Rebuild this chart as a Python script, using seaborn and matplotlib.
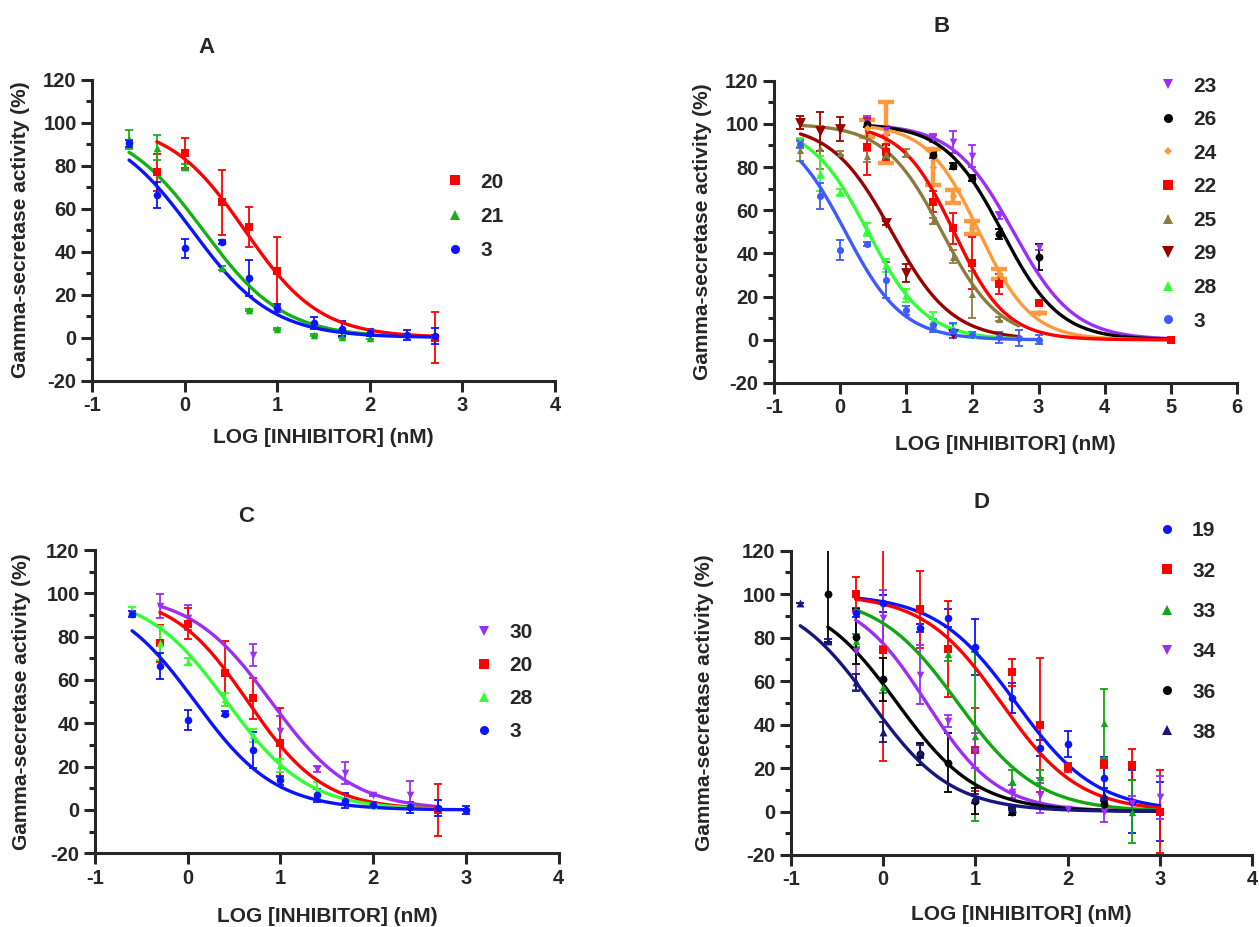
import numpy as np
import pandas as pd
import matplotlib
matplotlib.use("Agg")
import matplotlib.pyplot as plt
import seaborn as sns
from matplotlib.lines import Line2D
from matplotlib.ticker import NullLocator

# ---- measured points: log[inhibitor] (nM), activity (%), error ----
cpd3_x = [-0.6, -0.3, 0, 0.4, 0.7, 1, 1.4, 1.7, 2, 2.4, 2.7, 3]
cpd3_y = [90.5, 66.5, 41.5, 44.5, 27.7, 13.7, 6.8, 4.2, 2.3, 1.2, 0.7, 0.0]
cpd3_err = [1.5, 6, 4.5, 1, 8.5, 2, 3, 3.5, 1.5, 2.5, 3.7, 2]

cpd20_x = [-0.3, 0, 0.4, 0.7, 1, 2.7]
cpd20_y = [77, 86, 63, 51.5, 31, 0]
cpd20_err = [8.5, 7, 15, 9.5, 16, 12]

cpd21_x = [-0.6, -0.3, 0, 0.4, 0.7, 1, 1.4, 1.7, 2]
cpd21_y = [92.3, 88.5, 79.5, 32.5, 13, 3.8, 1, 0.3, 0]
cpd21_err = [4.5, 6, 1.5, 0.8, 0.5, 0.5, 0.5, 0.5, 0.5]

cpd28_x = [-0.6, -0.3, 0, 0.4, 0.7, 1, 1.4, 1.7, 2]
cpd28_y = [91.5, 77, 68.5, 51, 34.5, 20.7, 9, 5.2, 2.5]
cpd28_err = [2, 8, 1.5, 3, 3, 3, 4, 2, 1]

cpd30_x = [-0.3, 0, 0.7, 1, 1.4, 1.7, 2, 2.4]
cpd30_y = [94, 88.7, 71.5, 36.6, 18.8, 17.2, 7, 7]
cpd30_err = [5.5, 5.7, 5, 7, 1.5, 5, 0.5, 6.5]

cpd23_x = [0.4, 0.7, 1.4, 1.7, 2, 2.4, 3]
cpd23_y = [101, 97, 93.5, 91.7, 85, 57.5, 43]
cpd23_err = [2.5, 2, 2, 5, 5, 1.5, 1.5]

cpd26_x = [0.4, 0.7, 1.4, 1.7, 2, 2.4, 3]
cpd26_y = [100, 86, 85.5, 80.5, 75, 49, 38.5]
cpd26_err = [1.5, 4, 1.5, 1.5, 1.5, 2.5, 6]

cpd24_x = [0.4, 0.7, 1.4, 1.7, 2, 2.4, 3]
cpd24_y = [98, 96, 80, 66.5, 52, 30.5, 12.5]
cpd24_err = [4, 14, 8.5, 3, 3, 2.5, 0]

cpd22_x = [0.4, 0.7, 1.4, 1.7, 2, 2.4, 3, 5]
cpd22_y = [89.5, 87, 64, 51.6, 35.5, 25.8, 17, 0]
cpd22_err = [13, 3.5, 5, 7, 12, 4.5, 0, 0]

cpd25_x = [-0.6, -0.3, 0, 0.4, 0.7, 1, 1.4, 1.7, 2, 2.4]
cpd25_y = [88, 89, 86.5, 85, 86, 86.5, 55, 38.5, 21, 9.5]
cpd25_err = [5, 10, 1, 2.5, 2, 2, 1.5, 3, 11, 1]

cpd29_x = [-0.6, -0.3, 0, 0.7, 1, 1.7]
cpd29_y = [100.5, 96.5, 97.5, 54, 31, 2.5]
cpd29_err = [3, 9, 5.5, 1, 4, 1.5]

cpd19_x = [-0.3, 0, 0.4, 0.7, 1, 1.4, 1.7, 2, 2.4, 2.7, 3]
cpd19_y = [91.5, 95.8, 84.5, 89, 75.8, 52.3, 29.2, 31, 15.4, 4.6, 0]
cpd19_err = [2, 4, 2, 4, 13, 7, 3.5, 6, 9.5, 14.6, 13.5]

cpd32_x = [-0.3, 0, 0.4, 0.7, 1, 1.4, 1.7, 2, 2.4, 2.7, 3]
cpd32_y = [100, 74.3, 93, 74.7, 28.5, 64, 40, 20.3, 22, 21.6, 0]
cpd32_err = [7.7, 51, 17.7, 22, 19, 6.3, 30.8, 2, 2, 7, 19]

cpd33_x = [-0.3, 0, 0.7, 1, 1.4, 1.7, 2.4, 2.7]
cpd33_y = [78.5, 57.5, 72.3, 34.6, 14.2, 16, 40.5, 0]
cpd33_err = [3, 3, 3, 39, 5, 3, 16, 14.6]

cpd34_x = [-0.3, 0, 0.4, 0.7, 1, 1.4, 1.7, 2, 2.4, 2.7, 3]
cpd34_y = [74, 89, 63, 41.5, 28, 9, 7.5, 1, 0, 4, 6.5]
cpd34_err = [18, 13, 13.5, 2.7, 8, 3, 8, 0.5, 5, 3, 10]

cpd36_x = [-0.6, -0.3, 0, 0.4, 0.7, 1, 1.4, 2.4]
cpd36_y = [100, 80.5, 60.8, 26.5, 22.5, 5, 0, 3.5]
cpd36_err = [22, 12.7, 10, 5, 13.5, 6, 1.5, 3]

cpd38_x = [-0.9, -0.6, -0.3, 0, 0.4, 1, 1.4, 2.4]
cpd38_y = [96, 78.5, 59.5, 36.5, 27.5, 6, 1.5, 7.7]
cpd38_err = [0, 1, 4, 4.6, 3, 2, 1, 3]

# ---- fitted dose-response curves: [logIC50, Hill slope, x start, x end] ----
fit3 = [0.08, 1.0, -0.6, 3.0]
fit3_a = [0.08, 1.0, -0.6, 2.7]
fit20 = [0.65, 1.07, -0.3, 2.7]
fit21 = [0.2, 1.0, -0.6, 2.0]
fit28 = [0.42, 1.0, -0.6, 2.7]
fit30 = [0.9, 1.0, -0.3, 2.7]
fit23 = [2.62, 0.95, 0.4, 5.0]
fit26 = [2.45, 1.0, 0.4, 5.0]
fit24 = [2.1, 1.1, 0.4, 5.0]
fit22 = [1.72, 1.1, 0.4, 5.0]
fit25 = [1.54, 1.0, -0.6, 2.7]
fit29 = [0.78, 0.95, -0.6, 2.7]
fit19 = [1.44, 1.0, -0.3, 3.0]
fit32 = [1.28, 1.03, -0.3, 3.0]
fit33 = [0.81, 1.0, -0.3, 3.0]
fit34 = [0.47, 1.13, -0.3, 3.0]
fit36 = [0.15, 1.0, -0.6, 3.0]
fit38 = [-0.13, 1.0, -0.9, 3.0]

RED, BLUE, BLUE_B = "#FF0000", "#0A14FF", "#3D5BFF"
GREEN_A, LIME, GREEN_D = "#16B016", "#33FF33", "#10A810"
PURPLE, BLACK, ORANGE = "#9D2EF5", "#000000", "#FF9A3C"
OLIVE, MAROON, NAVY = "#8C7B3F", "#9B0000", "#16167E"

W, H = 1259, 927
sns.set_style("ticks")
plt.rcParams["font.family"] = ["Liberation Sans", "DejaVu Sans"]
plt.rcParams["font.weight"] = "bold"
plt.rcParams["axes.labelweight"] = "bold"
plt.rcParams["axes.unicode_minus"] = False

fig = plt.figure(figsize=(W / 100, H / 100), dpi=100)


def px_axes(left, top, right, bottom):
    return fig.add_axes([left / W, 1 - bottom / H, (right - left) / W, (bottom - top) / H])


def sigmoid(xs, fit):
    return 100 / (1 + 10 ** ((xs - fit[0]) * fit[1]))


def draw(ax, x, y, err, fit, color, marker, label, s=28, elw=1.3, cap=3.2, ms=6.5):
    pts = pd.DataFrame({"logc": x, "act": y, "sem": err})
    ax.errorbar(pts["logc"], pts["act"], yerr=pts["sem"], fmt="none", ecolor=color,
                elinewidth=elw, capsize=cap, capthick=elw, zorder=2)
    xs = np.linspace(fit[2], fit[3], 300)
    curve = pd.DataFrame({"logc": xs, "act": sigmoid(xs, fit)})
    sns.lineplot(data=curve, x="logc", y="act", color=color, lw=2.4, ax=ax, zorder=3)
    sns.scatterplot(data=pts, x="logc", y="act", color=color, marker=marker, s=s,
                    linewidth=0, ax=ax, zorder=4)
    return Line2D([], [], ls="none", marker=marker, color=color, markersize=ms,
                  markeredgewidth=0, label=label)


def style(ax, xmax):
    ax.set_xlim(-1, xmax)
    ax.set_ylim(-20, 120)
    ax.set_xticks(range(-1, xmax + 1))
    ax.set_yticks(range(-20, 121, 20))
    ax.set_yticks(range(-10, 121, 20), minor=True)
    ax.xaxis.set_minor_locator(NullLocator())
    ax.set_xlabel("")
    ax.set_ylabel("")
    sns.despine(ax=ax)
    for side in ["left", "bottom"]:
        ax.spines[side].set_linewidth(2.2)
    ax.tick_params(which="major", length=8, width=2.2, labelsize=14.5, pad=3)
    ax.tick_params(which="minor", length=4, width=2.2)
    for lab in ax.get_xticklabels() + ax.get_yticklabels():
        lab.set_fontweight("bold")


def legend(ax, handles, left, top, spacing):
    ax.legend(handles=handles, loc="upper left", bbox_to_anchor=(left / W, 1 - top / H),
              bbox_transform=fig.transFigure, frameon=False, borderpad=0, borderaxespad=0,
              handlelength=1.0, handletextpad=0.7, labelspacing=spacing,
              prop={"size": 15, "weight": "bold"})


def labels(cx, cy, ylx, yly, title, tx, ty):
    fig.text(cx / W, 1 - cy / H, "LOG [INHIBITOR] (nM)", ha="center", va="center",
             fontsize=15, fontweight="bold")
    fig.text(ylx / W, 1 - yly / H, "Gamma-secretase activity (%)", ha="center", va="center",
             rotation=90, fontsize=15, fontweight="bold")
    fig.text(tx / W, 1 - ty / H, title, ha="center", va="center", fontsize=16, fontweight="bold")


# ---- Panel A ----
axA = px_axes(92, 80, 555, 380.5)
a3 = [i for i, v in enumerate(cpd3_x) if v <= 2.7]
hA = [
    draw(axA, cpd20_x, cpd20_y, cpd20_err, fit20, RED, "s", "20", s=26),
    draw(axA, cpd21_x, cpd21_y, cpd21_err, fit21, GREEN_A, "^", "21", s=30),
    draw(axA, [cpd3_x[i] for i in a3], [cpd3_y[i] for i in a3], [cpd3_err[i] for i in a3],
         fit3_a, BLUE, "o", "3", s=30),
]
style(axA, 4)
legend(axA, hA, 444.6, 172.5, 0.74)
labels(323.5, 438, 21, 230, "A", 206.7, 47.3)

# ---- Panel B ----
axB = px_axes(774, 80.7, 1237, 383)
hB = [
    draw(axB, cpd23_x, cpd23_y, cpd23_err, fit23, PURPLE, "v", "23", s=30),
    draw(axB, cpd26_x, cpd26_y, cpd26_err, fit26, BLACK, "o", "26", s=32),
    draw(axB, cpd24_x, cpd24_y, cpd24_err, fit24, ORANGE, "D", "24", s=14, elw=3.2, cap=6, ms=4.5),
    draw(axB, cpd22_x, cpd22_y, cpd22_err, fit22, RED, "s", "22", s=28),
    draw(axB, cpd25_x, cpd25_y, cpd25_err, fit25, OLIVE, "^", "25", s=26),
    draw(axB, cpd29_x, cpd29_y, cpd29_err, fit29, MAROON, "v", "29", s=60, ms=8),
    draw(axB, cpd28_x, cpd28_y, cpd28_err, fit28, LIME, "^", "28", s=40, ms=7.5),
    draw(axB, cpd3_x, cpd3_y, cpd3_err, fit3, BLUE_B, "o", "3", s=26),
]
style(axB, 6)
legend(axB, hB, 1157.6, 76.5, 0.7)
labels(1005.5, 445, 702, 232, "B", 941.7, 26.7)

# ---- Panel C ----
axC = px_axes(95, 550, 558.5, 853.3)
hC = [
    draw(axC, cpd30_x, cpd30_y, cpd30_err, fit30, PURPLE, "v", "30", s=30),
    draw(axC, cpd20_x, cpd20_y, cpd20_err, fit20, RED, "s", "20", s=26),
    draw(axC, cpd28_x, cpd28_y, cpd28_err, fit28, LIME, "^", "28", s=30),
    draw(axC, cpd3_x, cpd3_y, cpd3_err, fit3, BLUE, "o", "3", s=30),
]
style(axC, 4)
legend(axC, hC, 473.6, 623.5, 0.67)
labels(327, 916, 22, 702, "C", 246, 517)

# ---- Panel D ----
axD = px_axes(791, 550.7, 1252, 855)
hD = [
    draw(axD, cpd19_x, cpd19_y, cpd19_err, fit19, BLUE, "o", "19", s=30),
    draw(axD, cpd32_x, cpd32_y, cpd32_err, fit32, RED, "s", "32", s=28),
    draw(axD, cpd33_x, cpd33_y, cpd33_err, fit33, GREEN_D, "^", "33", s=28),
    draw(axD, cpd34_x, cpd34_y, cpd34_err, fit34, PURPLE, "v", "34", s=30),
    draw(axD, cpd36_x, cpd36_y, cpd36_err, fit36, BLACK, "o", "36", s=32),
    draw(axD, cpd38_x, cpd38_y, cpd38_err, fit38, NAVY, "^", "38", s=32),
]
style(axD, 4)
legend(axD, hD, 1156.6, 521.5, 1.02)
labels(1021.5, 915, 704, 703, "D", 981.7, 502.7)

fig.savefig("out.png", dpi=100, facecolor="white")
